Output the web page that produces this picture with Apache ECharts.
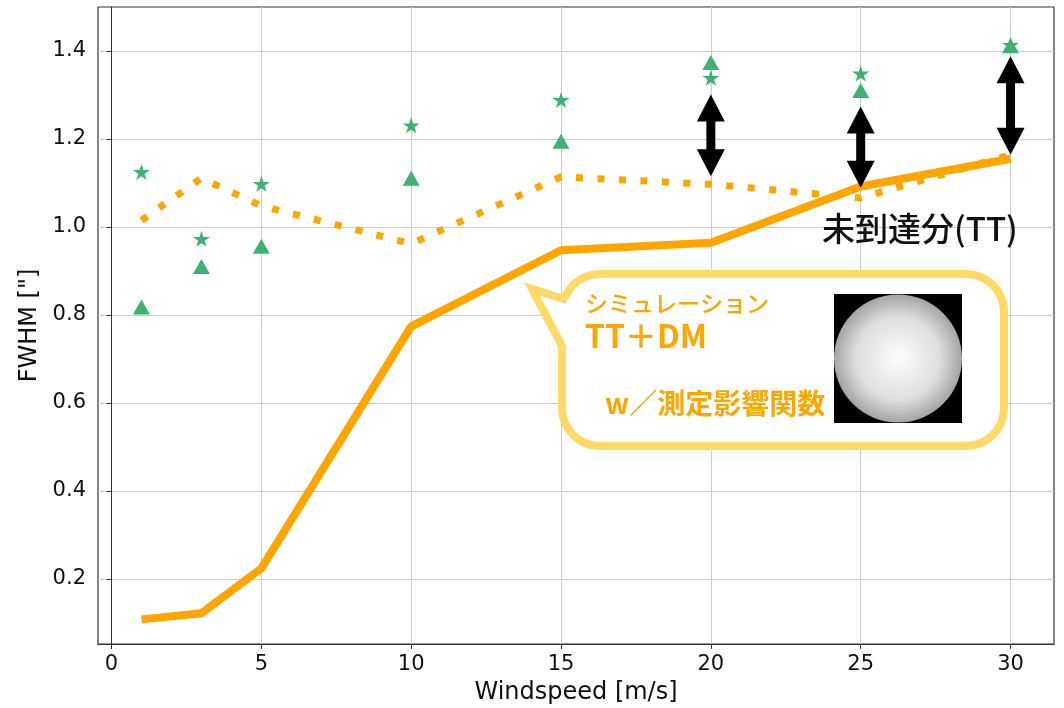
<!DOCTYPE html>
<html>
<head>
<meta charset="utf-8">
<script src="https://cdn.jsdelivr.net/npm/echarts@6/dist/echarts.min.js"></script>
<style>
html, body { margin: 0; padding: 0; background: #fff; }
#chart { width: 1064px; height: 708px; }
</style>
</head>
<body>
<div id="chart"></div>
<script>
// wind speeds [m/s]
var windspeed = [1, 3, 5, 10, 15, 20, 25, 30];
// simulation TT+DM (solid) and w/ measured influence function (dotted)
var simSolid = [0.108, 0.122, 0.224, 0.774, 0.947, 0.964, 1.092, 1.155];
var simDotted = [1.015, 1.111, 1.048, 0.962, 1.114, 1.097, 1.066, 1.164];
// measured values
var measStar = [1.125, 0.973, 1.098, 1.231, 1.289, 1.339, 1.349, 1.414];
var measTri = [0.818, 0.910, 0.956, 1.111, 1.195, 1.374, 1.310, 1.412];
// gap arrows
var arrowX = [20, 25, 30];
var arrowLow = [1.115, 1.089, 1.164];
var arrowHigh = [1.301, 1.274, 1.388];
// ticks
var xTicks = [0, 5, 10, 15, 20, 25, 30];
var yTicks = [0.2, 0.4, 0.6, 0.8, 1.0, 1.2, 1.4];

function pairs(xs, ys) {
	return xs.map(function (x, i) { return [x, ys[i]]; });
}

var green = '#3cb371';
var orange = '#ffa500';
var yellow = '#ffd966';
var starPath = 'path://M50,0 L61,35 L98,35 L68,57 L79,91 L50,70 L21,91 L32,57 L2,35 L39,35 Z';

var chart = echarts.init(document.getElementById('chart'));

var option = {
	animation: false,
	grid: {
		left: 98, top: 7, right: 10, bottom: 64,
		outerBoundsMode: 'none',
		show: true, borderColor: '#333', borderWidth: 1.2
	},
	xAxis: {
		type: 'value',
		min: -0.45, max: 31.45,
		name: 'Windspeed [m/s]',
		nameLocation: 'middle',
		nameGap: 37,
		nameTextStyle: { fontFamily: 'DejaVu Sans', fontSize: 24, color: '#111' },
		axisLine: { show: true, lineStyle: { color: '#333' } },
		axisTick: { show: true, length: 5, customValues: xTicks, lineStyle: { color: '#333' } },
		axisLabel: { customValues: xTicks, margin: 10, fontFamily: 'DejaVu Sans', fontSize: 21, color: '#111' },
		splitLine: { show: true, lineStyle: { color: '#cccccc', width: 1 } }
	},
	yAxis: {
		type: 'value',
		min: 0.052, max: 1.5,
		name: 'FWHM ["]',
		nameLocation: 'middle',
		nameGap: 47,
		nameTextStyle: { fontFamily: 'DejaVu Sans', fontSize: 24, color: '#111' },
		axisLine: { show: true, lineStyle: { color: '#333' } },
		axisTick: { show: true, length: 5, customValues: yTicks, lineStyle: { color: '#333' } },
		axisLabel: {
			customValues: yTicks, margin: 12, fontFamily: 'DejaVu Sans', fontSize: 21, color: '#111',
			formatter: function (v) { return v.toFixed(1); }
		},
		splitLine: { show: true, lineStyle: { color: '#cccccc', width: 1 } }
	},
	series: [
		{
			type: 'line',
			data: pairs(windspeed, simDotted),
			symbol: 'none',
			lineStyle: { color: orange, width: 7, type: [7, 14.5] },
			z: 2
		},
		{
			type: 'line',
			data: pairs(windspeed, simSolid),
			symbol: 'none',
			lineStyle: { color: orange, width: 8 },
			z: 3
		},
		{
			type: 'custom',
			data: arrowX.map(function (x, i) { return [x, arrowLow[i], arrowHigh[i]]; }),
			renderItem: function (params, api) {
				var lo = api.coord([api.value(0), api.value(1)]);
				var hi = api.coord([api.value(0), api.value(2)]);
				var cx = lo[0], y1 = hi[1], y2 = lo[1];
				var hl = 27, hw = 14, sw = 4.5;
				return {
					type: 'polygon',
					shape: {
						points: [
							[cx, y1], [cx + hw, y1 + hl], [cx + sw, y1 + hl], [cx + sw, y2 - hl],
							[cx + hw, y2 - hl], [cx, y2], [cx - hw, y2 - hl], [cx - sw, y2 - hl],
							[cx - sw, y1 + hl], [cx - hw, y1 + hl]
						]
					},
					style: { fill: '#000' }
				};
			},
			z: 4
		},
		{
			type: 'scatter',
			data: pairs(windspeed, measTri),
			symbol: 'triangle',
			symbolSize: [17, 15],
			itemStyle: { color: green, opacity: 1 },
			z: 5
		},
		{
			type: 'scatter',
			data: pairs(windspeed, measStar),
			symbol: starPath,
			symbolSize: [17, 16],
			itemStyle: { color: green, opacity: 1 },
			z: 6
		}
	],
	graphic: [
		{
			type: 'text',
			left: 822, top: 212,
			style: {
				text: '未到達分(TT)',
				font: '500 33px "Noto Sans CJK JP"',
				fill: '#111'
			},
			z: 10
		},
		// speech bubble
		{
			type: 'rect',
			shape: { x: 562, y: 274, width: 442, height: 172, r: 38 },
			style: { fill: '#fff', stroke: yellow, lineWidth: 8 },
			z: 10
		},
		{
			type: 'polygon',
			shape: { points: [[532, 289], [566, 300], [571, 300], [571, 345], [562, 345]] },
			style: { fill: '#fff' },
			z: 11
		},
		{
			type: 'polyline',
			shape: { points: [[567, 300], [532, 289], [562, 346]] },
			style: { stroke: yellow, lineWidth: 8, lineJoin: 'miter', fill: null },
			z: 11
		},
		{
			type: 'text',
			left: 585, top: 292,
			style: { text: 'シミュレーション', font: '500 23px "Noto Sans CJK JP"', fill: orange },
			z: 12
		},
		{
			type: 'text',
			left: 585, top: 320,
			style: { text: 'TT＋DM', font: 'bold 32px "Noto Sans CJK JP"', fill: orange },
			z: 12
		},
		{
			type: 'text',
			left: 605, top: 389,
			style: { text: 'w／測定影響関数', font: 'bold 28px "Noto Sans CJK JP"', fill: orange },
			z: 12
		},
		{
			type: 'rect',
			shape: { x: 834, y: 294, width: 128, height: 129 },
			style: { fill: '#000' },
			z: 12
		},
		{
			type: 'circle',
			shape: { cx: 898, cy: 358.5, r: 64 },
			style: {
				fill: {
					type: 'radial', x: 0.5, y: 0.5, r: 0.5,
					colorStops: [
						{ offset: 0, color: '#fdfdfd' },
						{ offset: 0.65, color: '#dedede' },
						{ offset: 1, color: '#a4a4a4' }
					]
				}
			},
			z: 13
		}
	]
};

chart.setOption(option);
</script>
</body>
</html>
